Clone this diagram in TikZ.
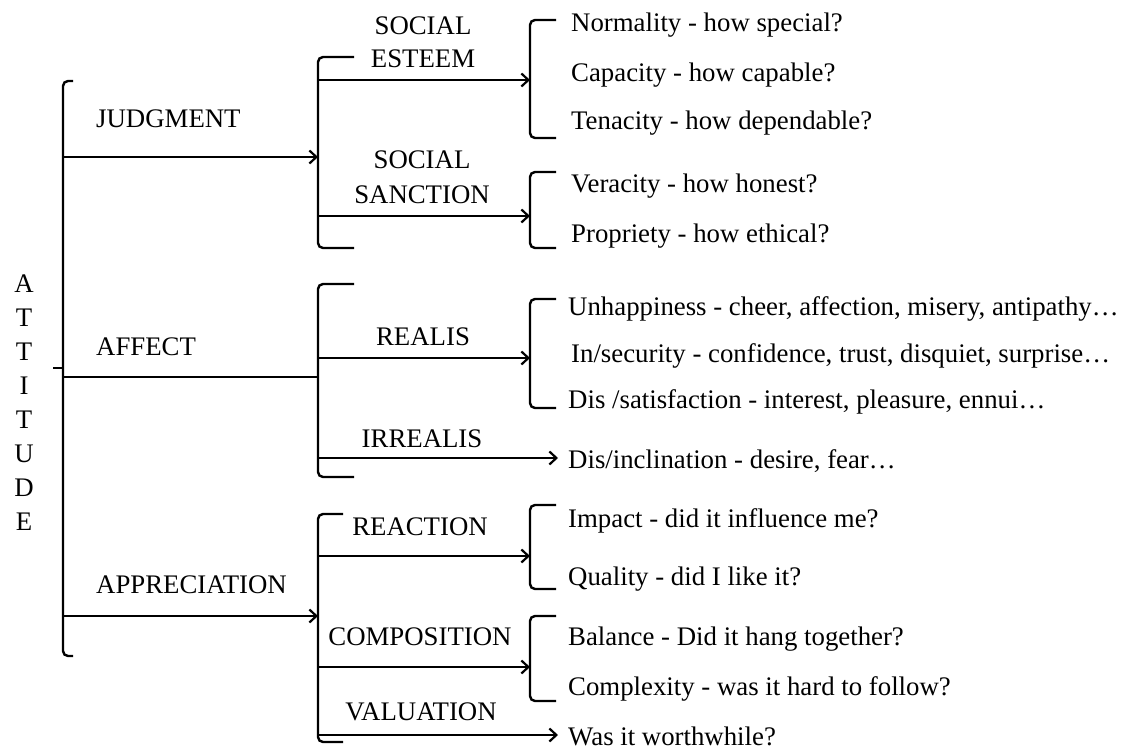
\documentclass[tikz,border=0pt]{standalone}
\usepackage{fontspec}
\setmainfont{Liberation Serif}
\usetikzlibrary{arrows.meta}
\begin{document}
\begin{tikzpicture}[x=1pt,y=-1pt,
  line width=2.4pt,
  txt/.style={inner sep=0pt,font=\fontsize{26.8}{30}\selectfont},
  item/.style={txt,anchor=base west},
  lab/.style={txt,anchor=base},
  brk/.style={rounded corners=5pt},
  arr/.style={-{Straight Barb[length=7pt,width=13pt,line width=2.2pt]}}]
\useasboundingbox (0,0) rectangle (1127,749);
% ATTITUDE
\foreach \ch [count=\i] in {A,T,T,I,T,U,D,E}
  \node[lab] (att\i) at (24,{292+(\i-1)*34}) {\ch};
% main bracket
\draw[brk] (73,81) -- (63,81) -- (63,656) -- (73,656);
\coordinate (mtick) at (53,368);
\coordinate (mtickb) at (63,368);
\draw (mtick) -- (mtickb);
\coordinate (mJ) at (63,157);
\coordinate (mA) at (63,377);
\coordinate (mP) at (63,616);
% second-level brackets
\draw[brk] (354,57) -- (318,57) -- (318,248) -- (354,248);
\draw[brk] (354,284) -- (318,284) -- (318,477) -- (354,477);
\draw[brk] (343,514) -- (318,514) -- (318,742) -- (343,742);
\coordinate (J) at (318,157);
\coordinate (A) at (318,377);
\coordinate (P) at (318,616);
\draw[arr] (mJ) -- (J);
\draw (mA) -- (A);
\draw[arr] (mP) -- (P);
\node[item] (judg) at (95,128) {JUDGMENT};
\node[item] (aff) at (95,355) {AFFECT};
\node[item] (appr) at (95,593) {APPRECIATION};
% third-level brackets
\draw[brk] (556,20) -- (530,20) -- (530,138) -- (556,138);
\draw[brk] (556,172) -- (530,172) -- (530,248) -- (556,248);
\draw[brk] (556,299) -- (530,299) -- (530,408) -- (556,408);
\draw[brk] (556,505) -- (530,505) -- (530,589) -- (556,589);
\draw[brk] (556,616) -- (530,616) -- (530,701) -- (556,701);
% second-level arrows
\coordinate (jSE) at (318,80);   \coordinate (SE) at (530,80);
\coordinate (jSS) at (318,216);  \coordinate (SS) at (530,216);
\coordinate (aR) at (318,358);   \coordinate (R) at (530,358);
\coordinate (aI) at (318,458);   \coordinate (I) at (558,458);
\coordinate (pRe) at (318,556);  \coordinate (Re) at (530,556);
\coordinate (pC) at (318,667);   \coordinate (C) at (530,667);
\coordinate (pV) at (318,735);   \coordinate (V) at (558,735);
\draw[arr] (jSE) -- (SE);
\draw[arr] (jSS) -- (SS);
\draw[arr] (aR) -- (R);
\draw[arr] (aI) -- (I);
\draw[arr] (pRe) -- (Re);
\draw[arr] (pC) -- (C);
\draw[arr] (pV) -- (V);
\node[lab] (se1) at (423,35) {SOCIAL};
\node[lab] (se2) at (423,68) {ESTEEM};
\node[lab] (ss1) at (422,168) {SOCIAL};
\node[lab] (ss2) at (422,203) {SANCTION};
\node[lab] (real) at (423,345) {REALIS};
\node[lab] (irr) at (422,447) {IRREALIS};
\node[lab] (reac) at (420,535) {REACTION};
\node[lab] (comp) at (420,645) {COMPOSITION};
\node[lab] (val) at (421,720) {VALUATION};
% items
\node[item] (i1) at (570,32) {Normality - how special?};
\node[item] (i2) at (570,82) {Capacity - how capable?};
\node[item] (i3) at (570,130) {Tenacity - how dependable?};
\node[item] (i4) at (570,193) {Veracity - how honest?};
\node[item] (i5) at (570,242) {Propriety - how ethical?};
\node[item] (i6) at (567,315) {Unhappiness - cheer, affection, misery, antipathy…};
\node[item] (i7) at (570,362) {In/security - confidence, trust, disquiet, surprise…};
\node[item] (i8) at (567,408) {Dis /satisfaction - interest, pleasure, ennui…};
\node[item] (i9) at (567,468) {Dis/inclination - desire, fear…};
\node[item] (i10) at (567,527) {Impact - did it influence me?};
\node[item] (i11) at (567,585) {Quality - did I like it?};
\node[item] (i12) at (567,645) {Balance - Did it hang together?};
\node[item] (i13) at (567,695) {Complexity - was it hard to follow?};
\node[item] (i14) at (567,745) {Was it worthwhile?};
\end{tikzpicture}
\end{document}
